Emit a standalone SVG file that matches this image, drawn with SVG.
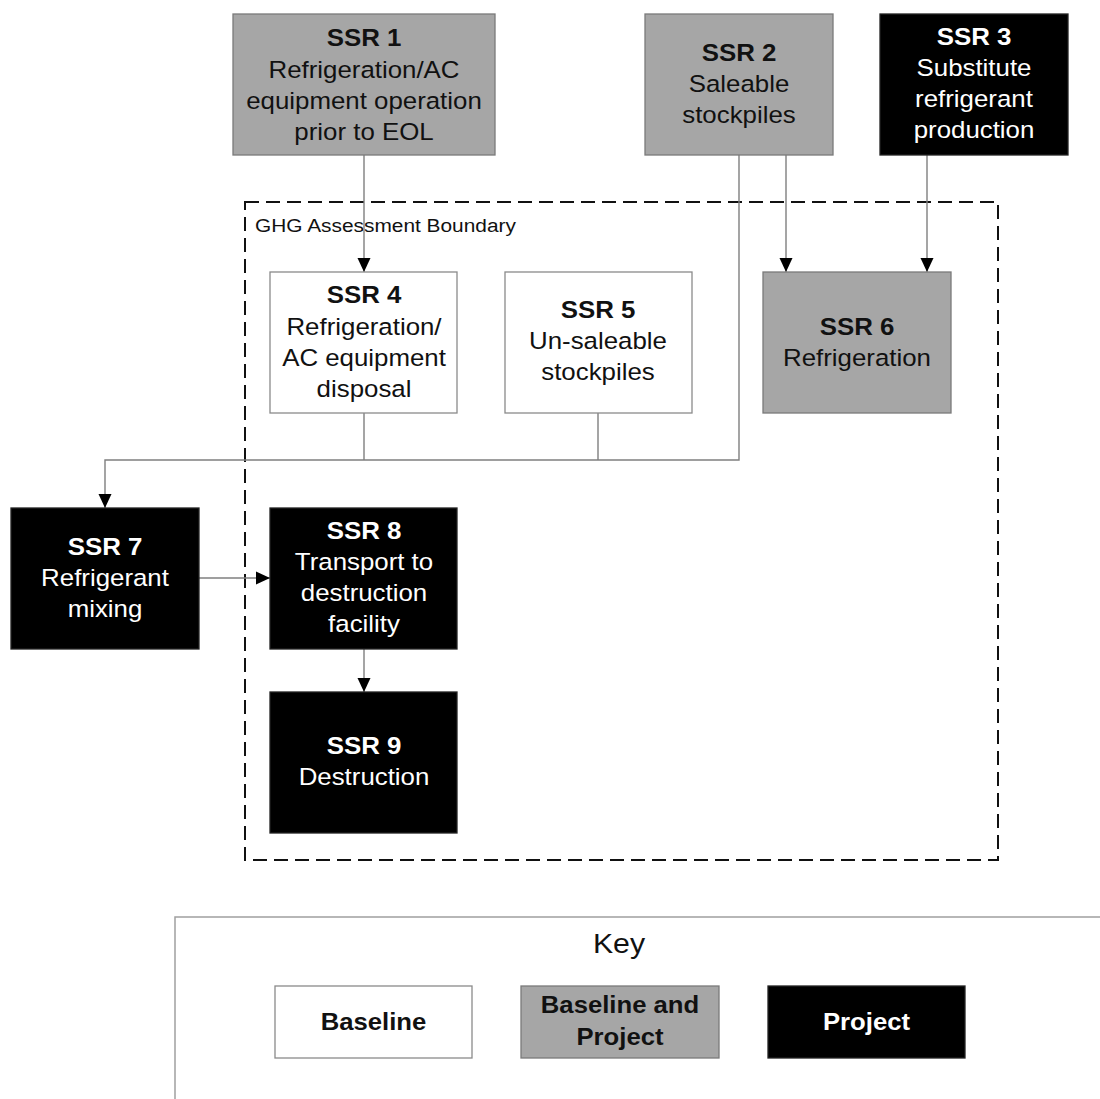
<svg xmlns="http://www.w3.org/2000/svg" width="1100" height="1099" viewBox="0 0 1100 1099">
<style>
text{font-family:"Liberation Sans",Arial,sans-serif;text-anchor:middle}
.t{font-size:23.5px}
.b{font-weight:bold}
.gray{fill:#a6a6a6;stroke:#7a7a7a;stroke-width:1.3}
.white{fill:#ffffff;stroke:#8a8a8a;stroke-width:1.3}
.black{fill:#000000;stroke:#222222;stroke-width:1.3}
.dk{fill:#111111}
.wt{fill:#ffffff}
.conn{fill:none;stroke:#7f7f7f;stroke-width:1.4}
.kt{font-size:24px;font-weight:bold}
</style>
<defs>
<marker id="arr" markerUnits="userSpaceOnUse" markerWidth="14" markerHeight="14" viewBox="0 0 14 14" refX="14" refY="7" orient="auto">
<path d="M0,0.5 L14,7 L0,13.5 z" fill="#000"/>
</marker>
</defs>
<rect id="boundary" x="245" y="202" width="753" height="658" fill="none" stroke="#111" stroke-width="2" stroke-dasharray="14 7"/>
<text x="255" y="232" style="font-size:18.8px;text-anchor:start" transform="translate(255 0) scale(1.11 1) translate(-255 0)" fill="#111">GHG Assessment Boundary</text>
<g id="connectors">
<line class="conn" x1="364" y1="155" x2="364" y2="272" marker-end="url(#arr)"/>
<line class="conn" x1="786" y1="155" x2="786" y2="272" marker-end="url(#arr)"/>
<line class="conn" x1="927" y1="155" x2="927" y2="272" marker-end="url(#arr)"/>
<polyline class="conn" points="739,155 739,460 105,460 105,508" marker-end="url(#arr)"/>
<line class="conn" x1="364" y1="413" x2="364" y2="460"/>
<line class="conn" x1="598" y1="413" x2="598" y2="460"/>
<line class="conn" x1="199" y1="578" x2="270" y2="578" marker-end="url(#arr)"/>
<line class="conn" x1="364" y1="648" x2="364" y2="692" marker-end="url(#arr)"/>
</g>
<g id="ssr1">
<rect class="gray" x="233" y="14" width="262" height="141"/>
<g transform="translate(364 0) scale(1.1 1)" class="dk">
<text class="t b" x="0" y="46">SSR 1</text>
<text class="t" x="0" y="78">Refrigeration/AC</text>
<text class="t" x="0" y="109">equipment operation</text>
<text class="t" x="0" y="140">prior to EOL</text>
</g>
</g>
<g id="ssr2">
<rect class="gray" x="645" y="14" width="188" height="141"/>
<g transform="translate(739 0) scale(1.1 1)" class="dk">
<text class="t b" x="0" y="61">SSR 2</text>
<text class="t" x="0" y="92">Saleable</text>
<text class="t" x="0" y="123">stockpiles</text>
</g>
</g>
<g id="ssr3">
<rect class="black" x="880" y="14" width="188" height="141"/>
<g transform="translate(974 0) scale(1.1 1)" class="wt">
<text class="t b" x="0" y="45">SSR 3</text>
<text class="t" x="0" y="76">Substitute</text>
<text class="t" x="0" y="107">refrigerant</text>
<text class="t" x="0" y="138">production</text>
</g>
</g>
<g id="ssr4">
<rect class="white" x="270" y="272" width="187" height="141"/>
<g transform="translate(364 0) scale(1.1 1)" class="dk">
<text class="t b" x="0" y="303">SSR 4</text>
<text class="t" x="0" y="335">Refrigeration/</text>
<text class="t" x="0" y="366">AC equipment</text>
<text class="t" x="0" y="397">disposal</text>
</g>
</g>
<g id="ssr5">
<rect class="white" x="505" y="272" width="187" height="141"/>
<g transform="translate(598 0) scale(1.1 1)" class="dk">
<text class="t b" x="0" y="318">SSR 5</text>
<text class="t" x="0" y="349">Un-saleable</text>
<text class="t" x="0" y="380">stockpiles</text>
</g>
</g>
<g id="ssr6">
<rect class="gray" x="763" y="272" width="188" height="141"/>
<g transform="translate(857 0) scale(1.1 1)" class="dk">
<text class="t b" x="0" y="335">SSR 6</text>
<text class="t" x="0" y="366">Refrigeration</text>
</g>
</g>
<g id="ssr7">
<rect class="black" x="11" y="508" width="188" height="141"/>
<g transform="translate(105 0) scale(1.1 1)" class="wt">
<text class="t b" x="0" y="555">SSR 7</text>
<text class="t" x="0" y="586">Refrigerant</text>
<text class="t" x="0" y="617">mixing</text>
</g>
</g>
<g id="ssr8">
<rect class="black" x="270" y="508" width="187" height="141"/>
<g transform="translate(364 0) scale(1.1 1)" class="wt">
<text class="t b" x="0" y="539">SSR 8</text>
<text class="t" x="0" y="570">Transport to</text>
<text class="t" x="0" y="601">destruction</text>
<text class="t" x="0" y="632">facility</text>
</g>
</g>
<g id="ssr9">
<rect class="black" x="270" y="692" width="187" height="141"/>
<g transform="translate(364 0) scale(1.1 1)" class="wt">
<text class="t b" x="0" y="754">SSR 9</text>
<text class="t" x="0" y="785">Destruction</text>
</g>
</g>
<g id="key">
<rect x="175" y="917" width="1000" height="300" fill="none" stroke="#a0a0a0" stroke-width="1.5"/>
<g transform="translate(619 0) scale(1.08 1)" class="dk">
<text x="0" y="953" style="font-size:28px">Key</text>
</g>
<rect class="white" x="275" y="986" width="197" height="72"/>
<g transform="translate(373.5 0) scale(1.07 1)" class="dk">
<text class="kt" x="0" y="1030">Baseline</text>
</g>
<rect class="gray" x="521" y="986" width="198" height="72"/>
<g transform="translate(620 0) scale(1.07 1)" class="dk">
<text class="kt" x="0" y="1013">Baseline and</text>
<text class="kt" x="0" y="1045">Project</text>
</g>
<rect class="black" x="768" y="986" width="197" height="72"/>
<g transform="translate(866.5 0) scale(1.07 1)" class="wt">
<text class="kt" x="0" y="1030">Project</text>
</g>
</g>
</svg>
